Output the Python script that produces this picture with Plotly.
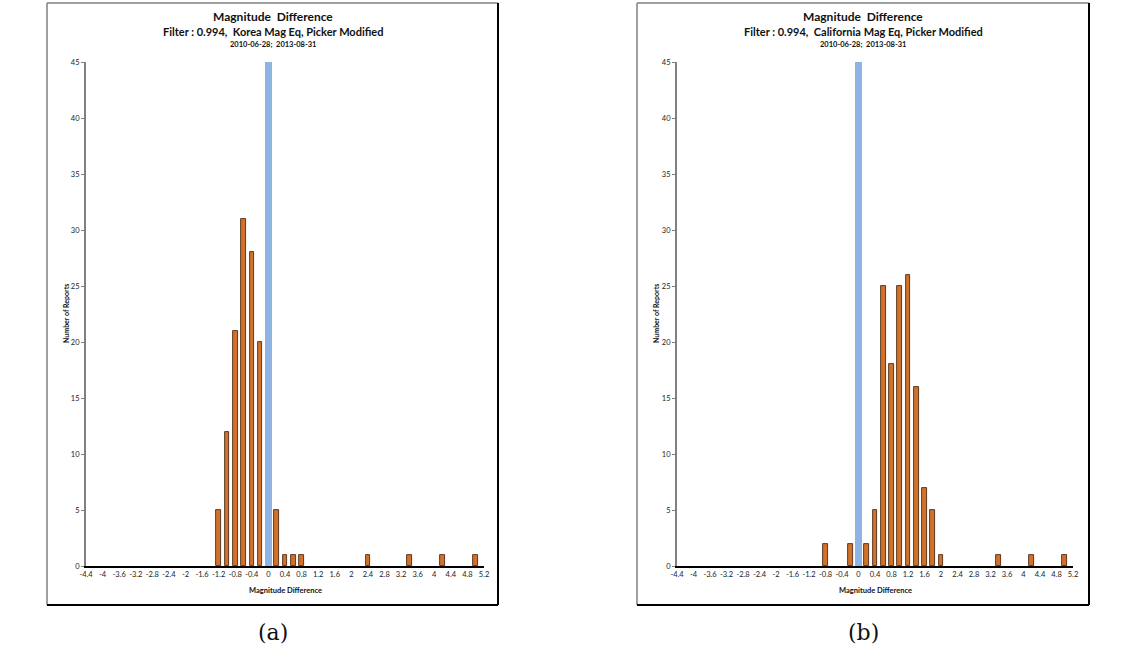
import plotly.graph_objects as go

# ---- data ----
tick_labels = ["-4.4", "-4", "-3.6", "-3.2", "-2.8", "-2.4", "-2", "-1.6", "-1.2", "-0.8",
               "-0.4", "0", "0.4", "0.8", "1.2", "1.6", "2", "2.4", "2.8", "3.2",
               "3.6", "4", "4.4", "4.8", "5.2"]
tick_values = [float(t) for t in tick_labels]

a_mag = [-1.2, -1.0, -0.8, -0.6, -0.4, -0.2, 0.0, 0.2, 0.4, 0.6, 0.8, 2.4, 3.4, 4.2, 5.0]
a_cnt = [5, 12, 21, 31, 28, 20, 0.25, 5, 1, 1, 1, 1, 1, 1, 1]

b_mag = [-0.8, -0.2, 0.0, 0.2, 0.4, 0.6, 0.8, 1.0, 1.2, 1.4, 1.6, 1.8, 2.0, 3.4, 4.2, 5.0]
b_cnt = [2, 2, 0.25, 2, 5, 25, 18, 25, 26, 16, 7, 5, 1, 1, 1, 1]

ref_mag = [0.0]
ref_cnt = [45]

titles_a = ["Magnitude  Difference", "Filter : 0.994,  Korea Mag Eq, Picker Modified", "2010-06-28;  2013-08-31"]
titles_b = ["Magnitude  Difference", "Filter : 0.994,  California Mag Eq, Picker Modified", "2010-06-28;  2013-08-31"]
panel_labels = ["(a)", "(b)"]

W, H = 1133, 655
def px(x): return x / W
def py(y): return 1 - y / H

ORANGE = "#D2722A"
EDGE = "#3A1A05"
BLUE = "#8DB4E2"
FONT = "Lato"

fig = go.Figure()

def add_panel(mag, cnt, xa, ya):
    fig.add_trace(go.Bar(x=mag, y=cnt, width=0.11, marker=dict(color=ORANGE, line=dict(color=EDGE, width=0.8)),
                         xaxis=xa, yaxis=ya, showlegend=False))
    fig.add_trace(go.Bar(x=ref_mag, y=ref_cnt, width=0.16, marker=dict(color=BLUE, line=dict(width=0)),
                         xaxis=xa, yaxis=ya, showlegend=False))

add_panel(a_mag, a_cnt, "x", "y")
add_panel(b_mag, b_cnt, "x2", "y2")

xcommon = dict(range=[-4.4, 5.2], tickvals=tick_values, ticktext=tick_labels, showgrid=False, zeroline=False,
               showline=True, linecolor="#000000", linewidth=1.5, ticks="", tickangle=0, automargin=False,
               tickfont=dict(family=FONT, size=7.5, color="#222"))
ycommon = dict(range=[0, 45], tickvals=[0, 5, 10, 15, 20, 25, 30, 35, 40, 45], showgrid=False, zeroline=False,
               showline=True, linecolor="#808080", linewidth=2, ticks="outside", ticklen=3, tickcolor="#808080",
               automargin=False, tickfont=dict(family=FONT, size=7.5, color="#222"))

dom_y = [py(566), py(62)]
fig.update_layout(
    width=W, height=H, margin=dict(l=0, r=0, t=0, b=0, autoexpand=False),
    paper_bgcolor="white", plot_bgcolor="white", barmode="overlay", bargap=0,
    xaxis=dict(domain=[px(86), px(484)], anchor="y", **xcommon),
    yaxis=dict(domain=dom_y, anchor="x", **ycommon),
    xaxis2=dict(domain=[px(677), px(1073)], anchor="y2", **xcommon),
    yaxis2=dict(domain=dom_y, anchor="x2", **ycommon),
)

# Panel frames
shapes = []
for (x0, x1) in [(47, 498), (637, 1089)]:
    shapes.append(dict(type="line", xref="paper", yref="paper", x0=px(x0), x1=px(x0), y0=py(3), y1=py(605), line=dict(color="#808080", width=1.5)))
    shapes.append(dict(type="line", xref="paper", yref="paper", x0=px(x0), x1=px(x1), y0=py(3), y1=py(3), line=dict(color="#808080", width=1.5)))
    shapes.append(dict(type="line", xref="paper", yref="paper", x0=px(x1), x1=px(x1), y0=py(3), y1=py(605), line=dict(color="#000000", width=2)))
    shapes.append(dict(type="line", xref="paper", yref="paper", x0=px(x0), x1=px(x1), y0=py(605), y1=py(605), line=dict(color="#000000", width=2)))
fig.update_layout(shapes=shapes)

ann = []
for cx, tl, lab, ycx, xcx in [(273, titles_a, panel_labels[0], 66, 285), (863, titles_b, panel_labels[1], 656, 875)]:
    ann.append(dict(text="<b>" + tl[0] + "</b>", x=px(cx), y=py(17), font=dict(family=FONT, size=12, color="#111")))
    ann.append(dict(text="<b>" + tl[1] + "</b>", x=px(cx), y=py(32), font=dict(family=FONT, size=11, color="#111")))
    ann.append(dict(text="<b>" + tl[2] + "</b>", x=px(cx), y=py(44), font=dict(family=FONT, size=7.5, color="#111")))
    ann.append(dict(text="<b>Number of Reports</b>", x=px(ycx), y=py(314), textangle=-90, font=dict(family=FONT, size=7, color="#111")))
    ann.append(dict(text="<b>Magnitude Difference</b>", x=px(xcx), y=py(590), font=dict(family=FONT, size=7.5, color="#111")))
    ann.append(dict(text=lab, x=px(cx), y=py(632), font=dict(family="DejaVu Serif", size=22, color="#111")))
for a in ann:
    a.update(xref="paper", yref="paper", showarrow=False, xanchor="center", yanchor="middle")
fig.update_layout(annotations=ann)

fig.write_html("out.html", config={"displayModeBar": False},
               post_script="document.body.style.margin='0';document.body.style.overflow='hidden';")
